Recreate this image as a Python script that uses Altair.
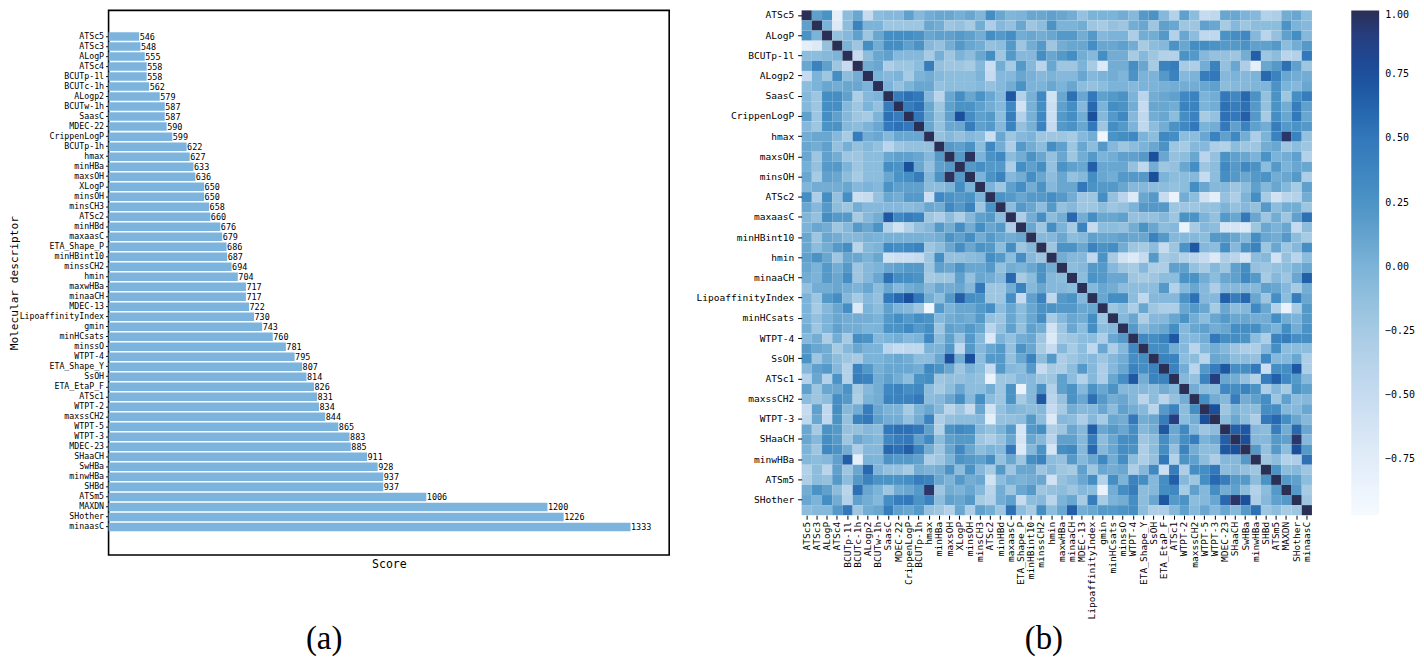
import altair as alt
import pandas as pd

names = ["ATSc5","ATSc3","ALogP","ATSc4","BCUTp-1l","BCUTc-1h","ALogp2","BCUTw-1h","SaasC","MDEC-22",
         "CrippenLogP","BCUTp-1h","hmax","minHBa","maxsOH","XLogP","minsOH","minsCH3","ATSc2","minHBd",
         "maxaasC","ETA_Shape_P","minHBint10","minssCH2","hmin","maxwHBa","minaaCH","MDEC-13","LipoaffinityIndex","gmin",
         "minHCsats","minssO","WTPT-4","ETA_Shape_Y","SsOH","ETA_EtaP_F","ATSc1","WTPT-2","maxssCH2","WTPT-5",
         "WTPT-3","MDEC-23","SHaaCH","SwHBa","minwHBa","SHBd","ATSm5","MAXDN","SHother","minaasC"]
scores = [546,548,555,558,558,562,579,587,587,590,599,622,627,633,636,650,650,658,660,676,679,686,687,694,704,
          717,717,722,730,743,760,781,795,807,814,826,831,834,844,865,883,885,911,928,937,937,1006,1200,1226,1333]

# upper triangle of the correlation matrix, each row starts right after the diagonal
r00 = [.15,.25,-.8,-.1,.1,-.5,-.1,-.05,-.05,.15,-.05,.05,.1,.1,.03,.1,-.03,.3,.1,-.03,0,
       .1,.1,.15,.1,.05,-.15,0,0,0,.05,-.05,.2,.25,-.05,-.35,.15,-.1,-.5,-.45,.1,.1,0,-.05,-.35,-.3,.05,.1,-.1]
r01 = [0,-.7,-.1,.4,0,0,-.2,-.2,-.2,-.2,.1,.05,-.2,-.15,-.25,.05,-.3,-.05,-.15,.1,
       -.2,-.1,.25,0,0,.05,-.2,-.25,-.15,-.2,.05,.1,-.2,.15,.1,-.2,-.2,.15,.1,-.25,-.05,-.2,-.1,-.1,-.1,.25,0,-.05]
r02 = [-.15,-.05,.15,-.2,.1,.3,.3,.3,.25,.1,.15,.15,.2,.15,.05,.3,.2,.3,.05,
       .1,.05,.1,.2,.2,.05,.2,-.05,0,0,-.3,.05,.05,.2,-.35,.1,-.1,-.45,-.45,.25,.3,.35,-.05,-.4,-.15,.15,.3,-.05]
r03 = [0,-.2,.3,.05,.3,.3,.15,.25,-.05,-.15,.05,.2,.1,.05,-.15,-.1,.2,-.2,
       .05,.2,-.2,.05,.1,.1,.3,.1,.1,.15,.05,-.25,-.1,-.05,.25,.1,.3,.3,.25,.2,.2,.25,.15,.15,.2,-.1,.05,.2]
r04 = [-.5,-.1,.1,.15,-.05,-.05,-.05,-.25,.03,-.2,0,-.1,.1,.3,-.2,.2,-.05,
       -.05,.3,.1,.2,.3,.05,-.05,.3,.05,.05,-.25,-.05,-.2,-.35,-.35,.25,.2,-.05,-.15,-.15,-.2,.05,.65,-.2,-.1,-.4,-.35,.5]
r05 = [.05,.1,-.3,-.2,-.2,-.1,.45,-.15,-.2,-.2,-.25,-.05,-.55,.05,-.25,.2,
       -.05,-.4,.1,-.2,-.2,0,-.25,-.7,.05,.05,.3,.1,-.25,.4,.45,-.25,-.3,.05,.4,-.15,.1,-.3,-.8,.1,.2,.55,.15,-.2]
r06 = [0,-.05,0,-.25,0,.05,-.05,-.1,-.1,-.1,0,-.5,-.05,-.05,.1,
       .02,-.05,0,-.05,-.05,.1,-.05,0,.05,-.02,.25,0,0,.2,.4,-.05,0,.45,.5,-.05,0,-.05,0,.6,.4,.1,.05,.05]
r07 = [0,-.15,0,.1,.1,-.15,-.1,-.1,-.1,-.05,-.15,-.05,.05,.25,
       0,0,.1,0,.1,-.1,-.15,-.1,0,0,-.05,0,0,.02,.05,.05,.05,.1,.15,-.1,-.05,-.05,-.02,-.02,.25,0,-.05,.1]
r08 = [.45,.55,.5,-.05,-.4,.1,.3,.1,.25,.1,-.05,.7,-.35,
       .02,.35,-.6,.1,.55,.1,.5,.15,.2,.25,0,-.4,.05,.1,.15,.35,.4,0,.05,.5,.35,.6,.25,-.15,.25,-.2,.3,.45]
r09 = [.45,.55,.1,-.2,.15,.25,.25,.15,.05,-.05,.35,-.6,
       .02,.3,-.55,.15,.3,-.05,.6,0,.3,.25,.05,-.5,.1,.1,.05,.4,.4,0,.05,.55,.45,.55,.2,-.15,.25,.05,.45,.15]
r10 = [.5,.1,-.15,.15,.75,.3,.15,.2,-.1,.45,-.35,
       .02,.35,-.55,.2,.3,.05,.75,-.05,.2,.35,-.05,-.45,.05,.1,-.1,.3,.4,-.25,-.15,.55,.5,.65,.2,-.25,.3,.1,.5,.1]
r11 = [.1,-.15,.1,.1,.45,.15,.2,-.05,.4,-.15,
       .02,.4,-.5,.2,.25,.1,.5,-.2,.3,.2,0,-.45,-.1,.05,.25,.35,.5,0,.05,.5,.15,.4,.15,.05,.45,.2,.25,.2]
r12 = [-.15,-.05,-.15,-.05,-.1,-.55,.1,-.2,-.05,
       0,-.2,-.2,-.2,-.25,-.05,.05,-.9,.25,.3,.35,0,-.1,.35,.3,-.1,-.1,.1,.4,.15,.35,.05,-.3,0,.4,.95,.4,-.15]
r13 = [.2,.15,.25,-.1,.35,.05,-.3,.2,
       .05,-.1,.3,.15,-.2,.1,-.1,.2,-.05,-.2,-.1,0,.1,.25,-.2,-.25,-.05,-.05,-.3,-.35,-.1,-.2,-.2,.05,.1,-.2,-.1,-.2]
r14 = [.2,.98,0,.25,.35,-.1,.05,
       .25,.1,-.15,.1,-.2,.05,.2,0,.05,.15,.15,.2,.75,.1,-.15,-.1,.1,-.4,-.15,.25,.15,.1,0,.25,0,.05,.15,-.35]
r15 = [.2,.3,.2,.2,-.3,.3,
       .15,.3,-.15,.25,.15,.1,.65,.1,.1,.1,-.15,-.45,.05,-.2,-.15,.1,.3,-.2,-.1,.35,.2,.35,.25,-.1,.2,0,.1,.1]
r16 = [0,.25,.4,-.05,.05,
       .3,.1,-.1,.1,-.15,-.05,.3,.1,.05,.2,.2,.2,.75,0,-.1,-.1,-.05,-.5,-.1,.3,.2,.1,.2,.25,.05,.1,.2,-.3]
r17 = [0,-.2,.15,.3,
       .05,.25,-.05,.1,.1,.5,.25,.2,.2,.1,-.05,-.05,-.1,-.1,-.15,-.1,.3,.1,-.05,-.05,-.2,-.1,.15,-.05,.1,-.05,-.25,.15]
r18 = [.25,.2,.1,
       .2,.2,.3,.2,.05,-.2,-.2,.3,-.15,-.4,-.7,.1,.2,-.5,-.85,.05,-.1,-.6,-.8,-.15,-.3,0,.3,-.25,-.6,-.4,-.35,.05]
r19 = [-.1,.2,
       .1,-.1,.2,-.15,-.05,-.2,-.2,-.1,-.2,-.15,0,.2,.2,.2,-.2,-.2,-.2,-.15,-.15,0,-.15,-.05,-.15,.2,-.1,.05,.05,-.2]
r20 = [-.3,
       .05,.3,-.1,.05,.6,.05,.3,.1,.1,.15,-.15,-.15,-.15,-.05,-.2,.25,.25,0,-.15,.2,.1,.5,.1,-.2,.05,-.2,.15,.55]
r21 = [.1,-.2,.3,0,-.25,.4,-.5,-.1,-.1,-.15,.05,.25,.1,-.1,-.05,-.85,-.25,-.05,-.1,-.65,-.65,-.7,-.2,.1,0,.1,-.5,-.1]
r22 = [-.05,-.05,.1,-.1,-.05,.15,.1,.1,.15,.1,.1,.4,.2,-.05,-.05,-.05,-.1,.2,.2,.1,-.05,.3,.1,.05,.2,-.1,-.25]
r23 = [-.2,.25,.25,.1,.4,.25,.3,.05,-.2,-.25,-.1,-.5,-.2,.25,.7,-.05,-.1,.3,-.05,.25,.4,-.2,.1,-.2,-.05,.3]
r24 = [.05,-.05,-.05,-.45,.25,-.25,-.6,-.7,-.5,.2,-.25,-.2,-.35,-.4,-.5,-.7,-.3,-.4,-.65,-.1,-.05,-.6,-.15,-.4,-.1]
r25 = [-.1,-.05,.2,.2,-.05,-.2,-.25,-.05,-.3,-.3,.15,.15,-.15,-.25,-.05,-.2,.15,.3,-.15,-.2,-.15,-.1,0,.1]
r26 = [-.1,.25,.2,.1,.1,-.2,-.25,-.2,-.1,-.1,.25,.25,.05,-.1,.1,.15,.35,.2,-.25,-.05,-.2,.1,.65]
r27 = [-.05,.1,.05,-.1,-.1,-.1,-.1,.2,-.35,-.05,.1,-.05,-.3,-.05,-.05,-.05,-.05,.15,.1,-.05,-.25,.05]
r28 = [.1,.3,.3,-.1,-.45,-.05,-.05,-.05,.25,.55,-.05,-.05,.65,.45,.6,.1,-.2,.3,-.1,.45,.1]
r29 = [-.2,-.1,-.3,.1,-.2,-.3,-.3,.1,.2,.1,-.25,.1,-.1,-.05,.35,.1,-.35,-.85,-.25,.2]
r30 = [-.05,.1,-.3,-.05,-.05,.1,.25,.05,-.1,.1,.2,.1,.1,.05,.05,.3,.05,0,.2]
r31 = [.2,-.05,.05,.1,.3,-.05,.1,.15,.05,.1,.3,.3,.3,.1,0,.3,.05,.25]
r32 = [.35,.3,.4,.7,-.05,-.05,.05,.5,.3,.3,.25,-.1,-.3,.4,.45,.3,.3]
r33 = [.3,.3,.05,-.05,-.4,-.05,.05,-.05,-.2,-.3,-.3,-.05,.3,-.1,-.1,-.1]
r34 = [.4,.4,-.1,-.1,-.4,.1,.05,-.1,-.1,-.15,.35,-.05,-.05,.1,-.3]
r35 = [.4,.05,-.4,.2,.45,.7,.3,.3,.5,-.55,.3,.3,.7,-.3]
r36 = [-.05,-.15,.4,.9,.1,.05,-.15,-.35,.45,.65,.35,.2,-.05]
r37 = [.05,-.1,-.1,.35,.3,.4,.25,-.3,-.05,-.25,.25,.15]
r38 = [.3,.05,-.05,.45,.05,.15,.3,-.2,.15,-.1,-.05]
r39 = [.75,-.2,0,-.1,-.1,.3,.3,-.05,-.05,.1]
r40 = [-.1,.1,-.1,-.3,.5,.6,.3,.1,-.05]
r41 = [.65,.7,-.05,-.1,.45,.05,.6,.1]
r42 = [.75,-.05,-.05,.2,.15,.95,-.05]
r43 = [.2,-.15,.2,-.1,.75,.2]
r44 = [-.2,-.1,-.35,-.3,.55]
r45 = [.25,-.1,-.05,-.2]
r46 = [.2,.15,-.1]
r47 = [.2,-.25]
r48 = [-.2]
upper = [r00,r01,r02,r03,r04,r05,r06,r07,r08,r09,r10,r11,r12,r13,r14,r15,r16,r17,r18,r19,r20,r21,r22,r23,r24,
         r25,r26,r27,r28,r29,r30,r31,r32,r33,r34,r35,r36,r37,r38,r39,r40,r41,r42,r43,r44,r45,r46,r47,r48]

bad = [(i, len(r)) for i, r in enumerate(upper) if len(r) != 49 - i]
if bad:
    raise ValueError(bad)

recs = []
for i, a in enumerate(names):
    recs.append({"a": a, "b": a, "v": 1.0})
    for k, v in enumerate(upper[i] if i < 49 else []):
        b = names[i + 1 + k]
        recs.append({"a": a, "b": b, "v": v})
        recs.append({"a": b, "b": a, "v": v})
heat = pd.DataFrame(recs)
bars = pd.DataFrame({"name": names, "score": scores})

MONO = "DejaVu Sans Mono"
SERIF = "Liberation Serif"

# empty bands above and below the bars keep the white margins of the left panel
ydomain = [" ", "  "] + names + ["   ", "    "]
yaxis = alt.Axis(title="Molecular descriptor", titleFont=MONO, titleFontSize=11.2, titleFontWeight="normal",
                 titleColor="black", titleX=-89, labelFont=MONO, labelFontSize=8.3, labelColor="black",
                 labelOverlap=False, tickColor="black", tickSize=3, labelPadding=2, domain=False, grid=False,
                 values=names)
yscale = alt.Scale(domain=ydomain, paddingInner=0.15, paddingOuter=0.29, align=0.33)
xscale = alt.Scale(domain=[497, 1395], nice=False, zero=False)
xenc = alt.X("score:Q", scale=xscale,
             axis=alt.Axis(title="Score", labels=False, ticks=False, domain=False, grid=False, titleFont=MONO,
                           titleFontSize=11.6, titleFontWeight="normal", titleColor="black", titlePadding=4))
yenc = alt.Y("name:N", scale=yscale, axis=yaxis)

left = alt.layer(
    alt.Chart(bars).mark_bar(color="#7cb4de", clip=True).encode(x=xenc, y=yenc),
    alt.Chart(bars).mark_text(align="left", dx=0.5, font=MONO, fontSize=8.5, color="black").encode(
        x=alt.X("score:Q", scale=xscale), y=alt.Y("name:N", scale=yscale), text="score:Q"),
).properties(
    width=563, height=547,
    view=alt.ViewConfig(stroke="black", strokeWidth=1.6),
    title=alt.TitleParams("(a)", orient="bottom", anchor="middle", font=SERIF, fontSize=33, fontWeight="normal",
                          color="black", dx=-65, offset=53),
)

domain = [-0.97, -0.75, -0.5, -0.25, 0, 0.25, 0.5, 0.75, 0.88, 1]
colors = ["#f5faff", "#e1ecf8", "#c6dbf0", "#a6cbe3", "#7cb3d8", "#4b93c5", "#3378ba", "#1a4f9c", "#234088", "#2a2f55"]

right = alt.Chart(heat).mark_rect().encode(
    x=alt.X("b:N", sort=names, scale=alt.Scale(paddingInner=0, paddingOuter=0),
            axis=alt.Axis(title=None, labelAngle=270, labelFont=MONO, labelFontSize=9.6, labelColor="black",
                          labelOverlap=False, tickColor="black", tickSize=4, labelPadding=2, domain=False, grid=False,
                          values=names)),
    y=alt.Y("a:N", sort=names, scale=alt.Scale(paddingInner=0, paddingOuter=0),
            axis=alt.Axis(title=None, labelFont=MONO, labelFontSize=9.6, labelColor="black", labelOverlap=False,
                          tickColor="black", tickSize=4, labelPadding=4, domain=False, grid=False,
                          values=names[::2])),
    color=alt.Color("v:Q", scale=alt.Scale(domain=domain, range=colors, clamp=True),
                    legend=alt.Legend(title=None, orient="right", offset=39, gradientLength=507, gradientThickness=28,
                                      values=[-0.75, -0.5, -0.25, 0, 0.25, 0.5, 0.75, 1], format=".2f",
                                      labelFont=MONO, labelFontSize=10, labelColor="black", labelOverlap=False,
                                      labelOffset=6, gradientStrokeWidth=0)),
).properties(
    width=512.5, height=507,
    title=alt.TitleParams("(b)", orient="bottom", anchor="middle", font=SERIF, fontSize=33, fontWeight="normal",
                          color="black", dx=-13, offset=4),
)

chart = alt.hconcat(left, right, spacing=25).resolve_scale(color="independent").configure_view(stroke=None).properties(padding=0, background="white")
chart.save("out.html", embed_options={"renderer": "svg", "actions": False})
